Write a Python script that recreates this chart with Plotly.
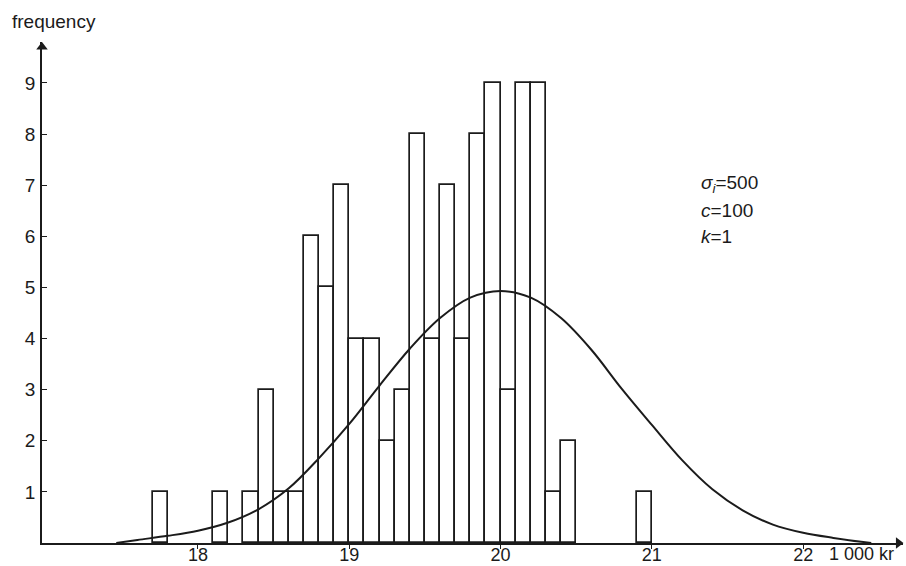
import plotly.graph_objects as go

# Histogram of incomes (1 000 kr), class width 0.1
bin_start = [17.7, 18.1, 18.3, 18.4, 18.5, 18.6, 18.7, 18.8, 18.9, 19.0,
             19.1, 19.2, 19.3, 19.4, 19.5, 19.6, 19.7, 19.8, 19.9, 20.0,
             20.1, 20.2, 20.3, 20.4, 20.9]
frequency = [1, 1, 1, 3, 1, 1, 6, 5, 7, 4,
             4, 2, 3, 8, 4, 7, 4, 8, 9, 3,
             9, 9, 1, 2, 1]
bin_width = 0.1

# Fitted frequency curve
curve_x = [17.46, 17.6, 17.8, 18.0, 18.2, 18.4, 18.6, 18.8, 19.0, 19.2,
           19.4, 19.6, 19.8, 20.0, 20.2, 20.4, 20.6, 20.8, 21.0, 21.2,
           21.4, 21.6, 21.8, 22.0, 22.2, 22.45]
curve_y = [0.0, 0.06, 0.14, 0.24, 0.40, 0.66, 1.07, 1.66, 2.33, 3.08,
           3.80, 4.40, 4.80, 4.93, 4.80, 4.40, 3.78, 3.02, 2.31, 1.62,
           1.05, 0.64, 0.36, 0.20, 0.10, 0.0]

x_ticks = [18, 19, 20, 21, 22]
y_ticks = [1, 2, 3, 4, 5, 6, 7, 8, 9]
x_range = [16.969, 22.66]
y_range = [0, 9.8]

ink = "#1b1b1b"
font_family = "Liberation Sans, Arial, sans-serif"

fig = go.Figure()

fig.add_trace(go.Bar(
    x=[b + bin_width / 2 for b in bin_start],
    y=frequency,
    width=bin_width,
    marker=dict(color="rgba(0,0,0,0)", line=dict(color=ink, width=1.7)),
    hoverinfo="skip",
))

fig.add_trace(go.Scatter(
    x=curve_x, y=curve_y, mode="lines",
    line=dict(color=ink, width=2, shape="spline", smoothing=1.0),
    hoverinfo="skip",
))

# Arrow heads at the ends of both axes
fig.add_trace(go.Scatter(
    x=[x_range[0], x_range[1] - 0.03], y=[y_range[1] - 0.1, 0],
    mode="markers",
    marker=dict(symbol=["triangle-up", "triangle-right"], size=10, color=ink),
    cliponaxis=False, hoverinfo="skip",
))

fig.update_layout(
    width=906, height=566,
    margin=dict(l=42, r=3, t=42, b=23),
    paper_bgcolor="white", plot_bgcolor="white",
    showlegend=False,
    bargap=0,
    font=dict(family=font_family, size=19, color=ink),
    xaxis=dict(
        range=x_range, tickvals=x_ticks, ticktext=[str(v) for v in x_ticks],
        ticks="outside", ticklen=4, tickwidth=1.2, tickcolor=ink,
        ticklabelstandoff=-9, tickfont=dict(size=18),
        showline=True, linecolor=ink, linewidth=1.5,
        showgrid=False, zeroline=False, automargin=False,
    ),
    yaxis=dict(
        range=y_range, tickvals=y_ticks, ticktext=[str(v) for v in y_ticks],
        ticks="inside", ticklen=5, tickwidth=1.2, tickcolor=ink,
        ticklabelstandoff=1,
        showline=True, linecolor=ink, linewidth=1.5,
        showgrid=False, zeroline=False, automargin=False,
    ),
    annotations=[
        dict(text="frequency", xref="paper", yref="paper",
             x=-0.037, y=1.04, xanchor="left", yanchor="middle",
             showarrow=False, font=dict(size=19)),
        dict(text="1 000 kr", xref="paper", yref="paper",
             x=0.952, y=-0.021, xanchor="center", yanchor="middle",
             showarrow=False, borderpad=0, font=dict(size=18)),
        dict(text="<i>σ<sub>i</sub></i>=500", xref="x", yref="y",
             x=21.31, y=7.02, xanchor="left", yanchor="middle",
             showarrow=False, font=dict(size=19)),
        dict(text="<i>c</i>=100", xref="x", yref="y",
             x=21.31, y=6.51, xanchor="left", yanchor="middle",
             showarrow=False, font=dict(size=19)),
        dict(text="<i>k</i>=1", xref="x", yref="y",
             x=21.31, y=6.0, xanchor="left", yanchor="middle",
             showarrow=False, font=dict(size=19)),
    ],
)

fig.write_html("out.html")
